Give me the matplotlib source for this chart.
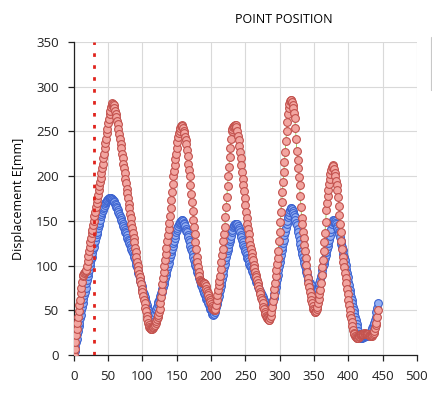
import matplotlib
matplotlib.use('Agg')
from matplotlib import pyplot as plt
from matplotlib.patches import Rectangle

# point index along x (0 .. 443)
x_vals = list(range(444))

red_disp = [
    0, 7, 14, 22, 29, 36, 43, 49, 56, 62,
    69, 75, 82, 88, 90, 92, 93, 94, 95, 100,
    105, 111, 116, 121, 126, 131, 136, 140, 145, 150,
    155, 160, 165, 170, 174, 179, 184, 189, 194, 198,
    203, 209, 214, 220, 225, 231, 237, 242, 248, 253,
    259, 264, 269, 273, 277, 280, 282, 281, 279, 276,
    273, 269, 266, 262, 258, 253, 247, 242, 236, 231,
    225, 220, 214, 209, 203, 197, 192, 186, 181, 175,
    169, 164, 158, 153, 147, 142, 136, 131, 126, 120,
    115, 110, 104, 99, 95, 91, 87, 83, 79, 74,
    70, 66, 62, 58, 53, 49, 44, 40, 36, 33,
    31, 30, 29, 29, 29, 30, 31, 32, 34, 36,
    38, 40, 43, 45, 48, 51, 58, 65, 72, 79,
    86, 93, 100, 106, 113, 120, 127, 134, 141, 148,
    155, 164, 173, 182, 191, 200, 206, 213, 219, 225,
    232, 238, 244, 248, 251, 254, 256, 257, 256, 254,
    251, 248, 244, 240, 236, 229, 222, 214, 207, 200,
    190, 180, 171, 161, 151, 143, 135, 126, 118, 110,
    104, 98, 93, 88, 84, 83, 82, 82, 81, 81,
    80, 79, 77, 74, 72, 69, 67, 64, 62, 59,
    57, 55, 53, 51, 50, 50, 52, 56, 61, 67,
    73, 78, 83, 88, 96, 104, 112, 119, 127, 135,
    143, 154, 166, 177, 189, 200, 210, 221, 231, 242,
    250, 253, 255, 256, 256, 257, 257, 255, 250, 245,
    240, 234, 227, 220, 212, 205, 197, 190, 183, 175,
    168, 160, 153, 147, 141, 135, 129, 123, 119, 114,
    110, 106, 101, 97, 93, 90, 87, 84, 80, 77,
    74, 71, 68, 64, 61, 58, 54, 51, 48, 46,
    44, 42, 41, 40, 39, 39, 41, 44, 48, 54,
    60, 67, 74, 81, 88, 95, 102, 109, 116, 127,
    138, 149, 160, 171, 182, 193, 205, 216, 227, 239,
    250, 261, 270, 276, 281, 284, 285, 285, 283, 280,
    276, 271, 265, 254, 241, 228, 218, 209, 199, 190,
    178, 165, 153, 146, 138, 131, 123, 116, 108, 101,
    93, 86, 81, 76, 71, 66, 62, 58, 55, 52,
    50, 48, 48, 49, 51, 54, 58, 63, 68, 73,
    81, 90, 98, 106, 116, 126, 136, 149, 162, 170,
    178, 185, 191, 197, 202, 207, 210, 212, 211, 208,
    204, 200, 195, 190, 184, 177, 167, 157, 147, 138,
    128, 119, 110, 104, 98, 92, 86, 80, 74, 68,
    62, 56, 50, 45, 41, 37, 32, 28, 25, 23,
    21, 20, 19, 19, 19, 20, 21, 22, 22, 23,
    23, 24, 24, 25, 25, 24, 24, 24, 23, 23,
    22, 22, 21, 21, 21, 22, 23, 25, 27, 30,
    33, 36, 43, 50,
]

blue_disp = [
    0, 5, 9, 14, 18, 23, 27, 32, 36, 41,
    45, 50, 54, 58, 63, 67, 71, 75, 80, 84,
    88, 92, 95, 99, 103, 107, 110, 114, 118, 121,
    125, 128, 132, 135, 138, 142, 145, 148, 151, 155,
    158, 160, 162, 164, 166, 168, 170, 171, 172, 173,
    174, 175, 175, 175, 175, 174, 174, 173, 172, 171,
    169, 168, 166, 164, 162, 160, 158, 155, 153, 151,
    149, 147, 144, 142, 140, 138, 136, 134, 131, 129,
    127, 125, 123, 121, 119, 116, 114, 112, 110, 107,
    104, 101, 98, 95, 92, 89, 86, 83, 80, 77,
    74, 71, 68, 65, 62, 59, 56, 53, 50, 47,
    44, 41, 39, 39, 40, 41, 43, 45, 47, 50,
    52, 54, 57, 59, 62, 64, 66, 69, 71, 74,
    76, 79, 83, 86, 90, 93, 96, 100, 103, 107,
    110, 113, 116, 119, 122, 125, 128, 131, 134, 137,
    140, 142, 144, 146, 148, 149, 150, 151, 151, 150,
    148, 146, 144, 141, 139, 137, 134, 132, 129, 126,
    122, 119, 116, 113, 110, 106, 103, 101, 98, 96,
    93, 91, 88, 86, 83, 81, 78, 76, 73, 71,
    69, 67, 65, 63, 62, 60, 58, 56, 54, 52,
    50, 48, 46, 45, 46, 48, 51, 54, 57, 60,
    63, 66, 70, 73, 77, 81, 85, 89, 94, 98,
    102, 106, 110, 114, 117, 120, 124, 127, 130, 133,
    137, 140, 143, 144, 145, 146, 147, 147, 146, 144,
    142, 140, 137, 134, 132, 129, 126, 123, 121, 119,
    116, 114, 112, 109, 107, 105, 102, 100, 98, 96,
    94, 92, 90, 88, 86, 84, 82, 80, 78, 76,
    74, 72, 71, 69, 67, 65, 63, 61, 59, 57,
    55, 53, 51, 50, 49, 48, 49, 51, 54, 57,
    61, 64, 68, 71, 76, 80, 85, 90, 95, 99,
    104, 108, 112, 117, 121, 125, 129, 134, 138, 142,
    146, 150, 154, 157, 160, 162, 164, 164, 163, 161,
    159, 157, 154, 151, 148, 145, 141, 137, 133, 129,
    124, 120, 116, 113, 110, 106, 103, 100, 96, 93,
    90, 86, 84, 82, 80, 78, 75, 73, 71, 69,
    67, 65, 65, 66, 68, 71, 74, 77, 80, 84,
    88, 91, 95, 99, 102, 105, 109, 112, 115, 118,
    122, 125, 129, 133, 137, 141, 146, 149, 151, 151,
    150, 148, 146, 144, 142, 140, 137, 135, 132, 128,
    124, 121, 117, 113, 110, 106, 101, 96, 92, 87,
    82, 78, 73, 69, 65, 62, 58, 54, 50, 47,
    43, 39, 35, 31, 27, 24, 22, 20, 19, 19,
    19, 20, 20, 20, 21, 21, 21, 21, 22, 22,
    23, 24, 25, 27, 28, 30, 32, 34, 36, 39,
    43, 48, 53, 58,
]

marker_x = 30
x_ticks = [0, 50, 100, 150, 200, 250, 300, 350, 400, 450, 500]
y_ticks = [0, 50, 100, 150, 200, 250, 300, 350]

plt.rcParams['font.family'] = ['Open Sans', 'DejaVu Sans']

fig = plt.figure(figsize=(4.32, 3.96), dpi=100)
ax = fig.add_axes([0.171, 0.1035, 0.794, 0.7905])

ax.plot(x_vals, blue_disp, color='#4a72d8', lw=0.6, marker='o', ms=5.6,
        mfc='#96b0f2', mec='#3b62d0', mew=0.8, zorder=3)
ax.plot(x_vals, red_disp, color='#8cc24a', lw=0.6, marker='o', ms=5.6,
        mfc='#f2a5a0', mec='#c2504c', mew=0.8, zorder=4)

ax.axvline(marker_x, color='#e0231c', lw=2, linestyle=(0, (1.3, 3.0)), zorder=5)

ax.set_xlim(0, 500)
ax.set_ylim(0, 350)
ax.set_xticks(x_ticks)
ax.set_yticks(y_ticks)
ax.grid(True, color='#d9d9d9', lw=0.8)
ax.set_axisbelow(True)
for side in ['top', 'right']:
    ax.spines[side].set_visible(False)
for side in ['left', 'bottom']:
    ax.spines[side].set_color('#222222')
    ax.spines[side].set_linewidth(0.9)
ax.tick_params(axis='both', direction='out', length=4, width=0.9,
               labelsize=9.5, colors='#222222')
ax.tick_params(axis='x', pad=7)
ax.tick_params(axis='y', pad=7)

ax.set_ylabel('Displacement E[mm]', fontsize=9, labelpad=8)
fig.text(0.657, 0.952, 'POINT POSITION', fontsize=9, ha='center', va='center')

# edge of the legend box cut off at the right border
fig.add_artist(Rectangle((0.997, 0.773), 0.1, 0.133, transform=fig.transFigure,
                         fill=False, edgecolor='#c8c8c8', lw=0.8))

plt.savefig('out.png', dpi=100)
